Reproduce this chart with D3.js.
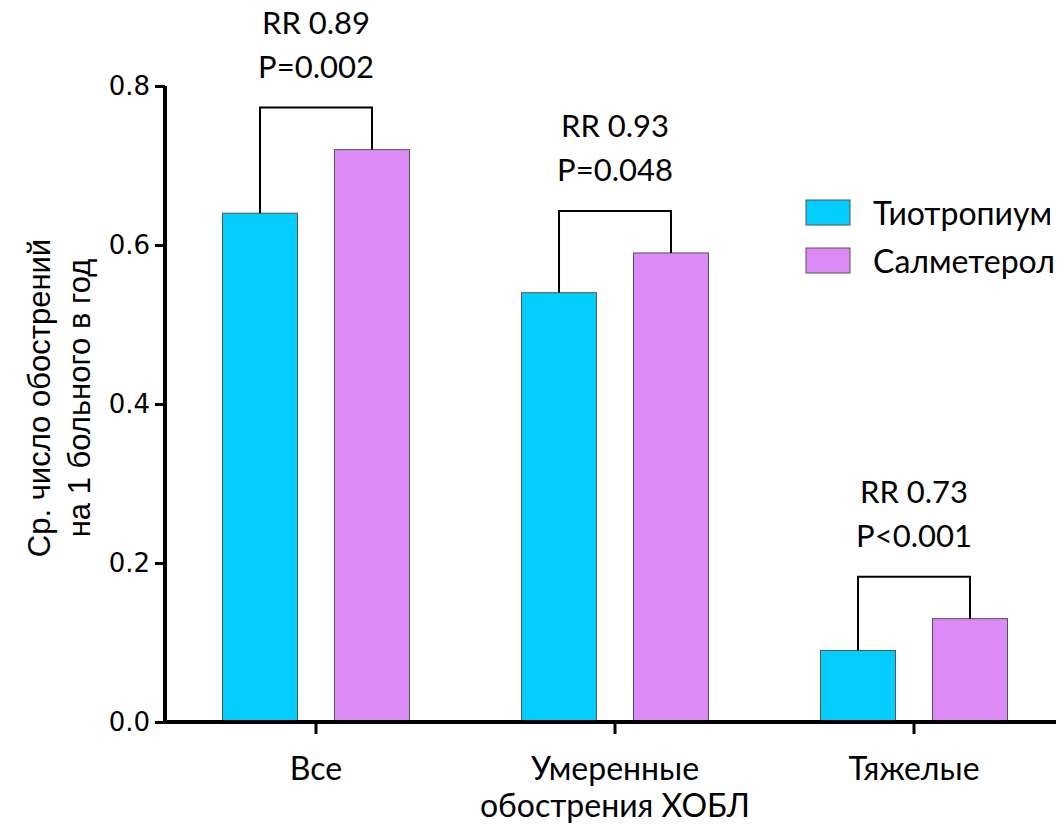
<!DOCTYPE html>
<html>
<head>
<meta charset="utf-8">
<script src="https://cdn.jsdelivr.net/npm/d3@7"></script>
<style>
  body { margin: 0; background: #fff; }
</style>
</head>
<body>
<div id="chart"></div>
<script>
const categories = [['Все'], ['Умеренные', 'обострения ХОБЛ'], ['Тяжелые']];
const seriesNames = ['Тиотропиум', 'Салметерол'];
const tiotropium = [0.64, 0.54, 0.09];
const salmeterol = [0.72, 0.59, 0.13];
const rrLabels = ['RR 0.89', 'RR 0.93', 'RR 0.73'];
const pLabels = ['P=0.002', 'P=0.048', 'P<0.001'];
const yTicks = [0, 0.2, 0.4, 0.6, 0.8];

const width = 1064;
const height = 825;
const colors = ['#03CCFE', '#DC8AF6'];
const labelFont = 'Lato, "Open Sans", sans-serif';

const svg = d3.select('#chart')
  .append('svg')
  .attr('width', width)
  .attr('height', height);

const catKeys = categories.map((d, i) => i);

const x0 = d3.scaleBand()
  .domain(catKeys)
  .range([166.5, 1063.5])
  .padding(0);

const x1 = d3.scaleBand()
  .domain(seriesNames)
  .range([0, 187])
  .paddingInner(0.33)
  .paddingOuter(0);

const y = d3.scaleLinear()
  .domain([0, 0.8])
  .range([722, 86]);

const groupLeft = i => x0(i) + x0.bandwidth() / 2 - 93.5;

const rows = catKeys.map(i => ({ i, values: [tiotropium[i], salmeterol[i]] }));

// bars
const groups = svg.append('g')
  .selectAll('g')
  .data(rows)
  .enter()
  .append('g')
  .attr('transform', d => `translate(${groupLeft(d.i)}, 0)`);

groups.selectAll('rect')
  .data(d => d.values.map((v, k) => ({ key: seriesNames[k], value: v, k })))
  .enter()
  .append('rect')
  .attr('x', d => x1(d.key))
  .attr('y', d => y(d.value))
  .attr('width', x1.bandwidth())
  .attr('height', d => y(0) - y(d.value))
  .attr('fill', d => colors[d.k])
  .attr('stroke', '#555')
  .attr('stroke-width', 1);

// brackets and annotations
rows.forEach(d => {
  const left = groupLeft(d.i);
  const xa = left + x1(seriesNames[0]) + x1.bandwidth() / 2;
  const xb = left + x1(seriesNames[1]) + x1.bandwidth() / 2;
  const top = y(d3.max(d.values)) - 42;
  svg.append('path')
    .attr('d', `M${xa},${y(d.values[0])}V${top}H${xb}V${y(d.values[1])}`)
    .attr('fill', 'none')
    .attr('stroke', '#000')
    .attr('stroke-width', 2);
  const cx = (xa + xb) / 2;
  svg.append('text')
    .attr('x', cx)
    .attr('y', top - 74)
    .attr('text-anchor', 'middle')
    .style('font-family', labelFont)
    .style('font-size', '31px')
    .text(rrLabels[d.i]);
  svg.append('text')
    .attr('x', cx)
    .attr('y', top - 30)
    .attr('text-anchor', 'middle')
    .style('font-family', labelFont)
    .style('font-size', '31px')
    .text(pLabels[d.i]);
});

// y axis
const yAxis = svg.append('g')
  .attr('transform', 'translate(165, 0)')
  .call(d3.axisLeft(y).tickValues(yTicks).tickFormat(d3.format('.1f')).tickSize(10).tickPadding(5));
yAxis.select('.domain').attr('stroke-width', 4).attr('d', `M0,${y(0.8)}V${y(0) + 2}`);
yAxis.selectAll('.tick line').attr('stroke-width', 3);
yAxis.selectAll('.tick text')
  .style('font-family', '"DejaVu Sans", Verdana, sans-serif')
  .style('font-size', '26px');

// x axis
const xAxis = svg.append('g')
  .attr('transform', 'translate(0, 722)')
  .call(d3.axisBottom(x0).tickSize(12).tickFormat(''));
xAxis.select('.domain').attr('stroke-width', 4).attr('d', 'M163,0H1056');
xAxis.selectAll('.tick line').attr('stroke-width', 3);

categories.forEach((lines, i) => {
  const cx = x0(i) + x0.bandwidth() / 2;
  lines.forEach((t, j) => {
    svg.append('text')
      .attr('x', cx)
      .attr('y', 780 + j * 37)
      .attr('text-anchor', 'middle')
      .style('font-family', labelFont)
      .style('font-size', '32px')
      .text(t);
  });
});

// y axis title
const yTitle = svg.append('text')
  .attr('transform', 'translate(0, 398) rotate(-90)')
  .attr('text-anchor', 'middle')
  .style('font-family', '"Liberation Sans", Arial, sans-serif')
  .style('font-size', '31px');
yTitle.append('tspan').attr('x', 0).attr('y', 50).text('Ср. число обострений');
yTitle.append('tspan').attr('x', 0).attr('y', 90).text('на 1 больного в год');

// legend
const legend = svg.append('g')
  .attr('transform', 'translate(806, 200)');

seriesNames.forEach((name, i) => {
  const row = legend.append('g')
    .attr('transform', `translate(0, ${i * 48})`);
  row.append('rect')
    .attr('width', 44)
    .attr('height', 25)
    .attr('fill', colors[i])
    .attr('stroke', '#555')
    .attr('stroke-width', 1);
  row.append('text')
    .attr('x', 67)
    .attr('y', 25)
    .style('font-family', labelFont)
    .style('font-size', '32px')
    .text(name);
});
</script>
</body>
</html>
